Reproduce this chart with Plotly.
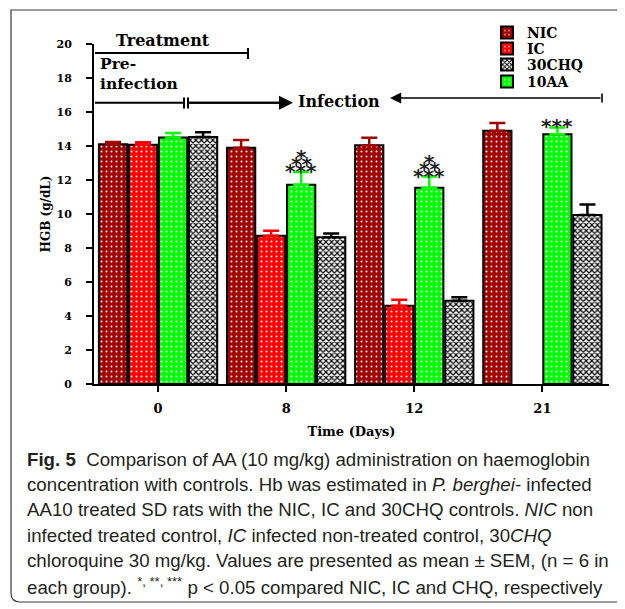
import plotly.graph_objects as go

# ---------------- data ----------------
days = ["0", "8", "12", "21"]
nic = [14.1, 13.9, 14.05, 14.9]
nic_err = [0.14, 0.45, 0.43, 0.45]
ic = [14.08, 8.72, 4.6, None]
ic_err = [0.14, 0.3, 0.35, 0]
aa = [14.5, 11.72, 11.55, 14.69]
aa_err = [0.27, 0.75, 0.65, 0.4]
chq = [14.53, 8.63, 4.9, 9.94]
chq_err = [0.28, 0.23, 0.2, 0.62]
y_ticks = list(range(0, 21, 2))
# significance marks above 10AA bars (rows from bottom to top)
stars = {1: ["***", "**", "*"], 2: ["***", "**", "*"], 3: ["***"]}

caption = [
    "<b>Fig. 5</b>  Comparison of AA (10 mg/kg) administration on haemoglobin",
    "concentration with controls. Hb was estimated in <i>P. berghei</i>- infected",
    "AA10 treated SD rats with the NIC, IC and 30CHQ controls. <i>NIC</i> non",
    "infected treated control, <i>IC</i> infected non-treated control, 30<i>CHQ</i>",
    "chloroquine 30 mg/kg. Values are presented as mean \u00b1 SEM, (n = 6 in",
    "each group). <sup>*, **, ***</sup> p &lt; 0.05 compared NIC, IC and CHQ, respectively",
]

# ---------------- layout helpers (screen pixel -> paper) ----------------
OFF = 8                       # page body margin
W, H = 625 - OFF, 609 - OFF
PL, PT, PW, PH = 94, 44, 515, 340   # plot area in screen pixels


def px(x):
    return (x - PL) / PW


def py(y):
    return (PT + PH - y) / PH


SERIF = "DejaVu Serif"
bold = dict(family=SERIF, weight="bold", color="black")

fig = go.Figure()

series = [
    ("NIC", nic, nic_err, "#A00000", ".", "white", "", 33),
    ("IC", ic, ic_err, "#FF0000", ".", "white", "2", 49),
    ("10AA", aa, aa_err, "#00FF00", ".", "white", "4", 82),
    ("30CHQ", chq, chq_err, "white", "x", "black", "3", 65),
]

for name, vals, errs, col, shape, fg, leg, ly in series:
    is_chq = name == "30CHQ"
    fig.add_trace(go.Bar(
        name=name, x=days, y=vals,
        legend="legend" + leg,
        marker=dict(
            color=col,
            line=dict(color="black", width=2),
            pattern=dict(shape=shape, fgcolor=fg, bgcolor=col,
                         size=4 if is_chq else 5,
                         solidity=0.5 if is_chq else 0.12,
                         fillmode="replace"),
        ),
        error_y=dict(type="data", symmetric=False, array=errs,
                     arrayminus=[0] * len(errs),
                     color="black" if is_chq else col,
                     thickness=2.5, width=8),
    ))

legends = {}
for name, vals, errs, col, shape, fg, leg, ly in series:
    legends["legend" + leg] = dict(
        x=px(487), y=py(ly), xanchor="left", yanchor="middle",
        bgcolor="rgba(0,0,0,0)", borderwidth=0,
        font=dict(family=SERIF, size=14, weight="bold", color="black"),
    )

annotations = []
# asterisks above the 10AA bars
group_w = 0.9375
off = -group_w / 2 + 2.5 * group_w / 4
for i, rows in stars.items():
    top = aa[i] + aa_err[i]
    for r, s in enumerate(rows):
        annotations.append(dict(
            x=i + off, y=top, xref="x", yref="y", text=s, showarrow=False,
            xanchor="center", yanchor="middle", yshift=1 + 7 * r,
            font=dict(family="DejaVu Sans", size=20, weight="bold",
                      color="#222222")))

# phase labels
annotations += [
    dict(x=px(163), y=py(40), xref="paper", yref="paper", text="Treatment",
         showarrow=False, xanchor="center", yanchor="middle",
         font=dict(size=16, **bold)),
    dict(x=px(98), y=py(73), xref="paper", yref="paper",
         text="Pre-<br>infection", showarrow=False, xanchor="left",
         yanchor="middle", align="left",
         font=dict(size=15.5, **bold)),
    dict(x=px(339), y=py(102), xref="paper", yref="paper", text="Infection",
         showarrow=False, xanchor="center", yanchor="middle",
         font=dict(size=16, **bold)),
    dict(x=px(293), y=py(102.7), xref="paper", yref="paper", text="",
         showarrow=True, ax=-105, ay=0, arrowhead=2, arrowsize=1.4,
         arrowwidth=2, arrowcolor="black"),
    dict(x=px(390), y=py(98), xref="paper", yref="paper", text="",
         showarrow=True, ax=212, ay=0, arrowhead=2, arrowsize=1.4,
         arrowwidth=1.6, arrowcolor="black"),
]

# caption lines
for k, line in enumerate(caption):
    annotations.append(dict(
        x=px(25), y=py(459 + 25.4 * k), xref="paper", yref="paper",
        text=line, showarrow=False, xanchor="left", yanchor="middle",
        align="left",
        font=dict(family="Liberation Sans", size=18.7, color="#231f20")))


def seg(x0, y0, x1, y1, w=2):
    return dict(type="line", xref="paper", yref="paper",
                x0=px(x0), y0=py(y0), x1=px(x1), y1=py(y1),
                line=dict(color="black", width=w))


shapes = [
    seg(95, 53, 248, 53), seg(248, 48, 248, 59),
    seg(95, 102.7, 184, 102.7), seg(184, 97.5, 184, 108.5),
    seg(188, 97.5, 188, 108.5), seg(188, 102.7, 285, 102.7),
    seg(602, 93.5, 602, 102.5, 1.6),
]
# outer rounded frame
fx0, fy0, fx1, fy1, rr = 11, 10, 624, 602, 9
path = (f"M {px(fx0)},{py(fy0)} L {px(fx1 - rr)},{py(fy0)} "
        f"Q {px(fx1)},{py(fy0)} {px(fx1)},{py(fy0 + rr)} "
        f"L {px(fx1)},{py(fy1)} L {px(fx0 + rr)},{py(fy1)} "
        f"Q {px(fx0)},{py(fy1)} {px(fx0)},{py(fy1 - rr)} Z")
shapes.append(dict(type="path", xref="paper", yref="paper", path=path,
                   line=dict(color="#3a3a3a", width=1.2),
                   fillcolor="rgba(0,0,0,0)"))

fig.update_layout(
    width=W, height=H,
    margin=dict(l=PL - OFF, r=W - (PL - OFF) - PW, t=PT - OFF,
                b=H - (PT - OFF) - PH, autoexpand=False),
    paper_bgcolor="white", plot_bgcolor="white",
    barmode="group", bargap=1 - group_w, bargroupgap=0.06,
    showlegend=True,
    annotations=annotations, shapes=shapes,
    xaxis=dict(
        type="category", range=[-0.5, 3.52], showgrid=False, zeroline=False,
        showline=True, linecolor="black", linewidth=2,
        ticks="outside", ticklen=6, tickwidth=2, tickcolor="black",
        ticklabelstandoff=5,
        tickfont=dict(size=13, **bold),
        title=dict(text="Time (Days)", font=dict(size=13, **bold), standoff=12),
    ),
    yaxis=dict(
        range=[0, 20], tickvals=y_ticks, showgrid=False, zeroline=False,
        showline=True, linecolor="black", linewidth=2,
        ticks="outside", ticklen=6, tickwidth=2, tickcolor="black",
        ticklabelstandoff=12,
        tickfont=dict(size=11, **bold),
        title=dict(text="HGB (g/dL)", font=dict(size=12, **bold), standoff=3),
    ),
    **legends,
)

fig.write_html("out.html")
